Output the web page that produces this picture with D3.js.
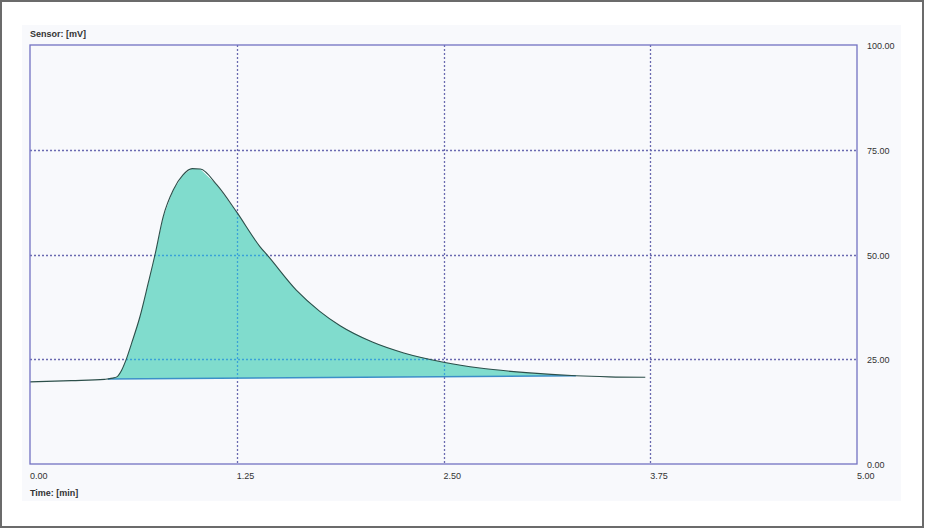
<!DOCTYPE html>
<html>
<head>
<meta charset="utf-8">
<script src="https://cdn.jsdelivr.net/npm/d3@7"></script>
<style>
  html, body { margin: 0; padding: 0; background: #ffffff; }
  svg { display: block; }
  text { font-family: "Liberation Sans", Arial, sans-serif; }
</style>
</head>
<body>
<svg id="chart" width="925" height="528"></svg>
<script>
// ---- data ----
const timeMin = [0.00, 0.25, 0.45, 0.47, 0.50, 0.525, 0.554, 0.58, 0.615, 0.665, 0.715, 0.756, 0.805, 0.866, 0.925, 0.98, 1.03, 1.13, 1.25, 1.39, 1.44, 1.61, 1.75, 1.875, 2.07, 2.26, 2.50, 2.72, 3.00, 3.30, 3.50, 3.72];
const sensorMv = [19.6, 19.9, 20.2, 20.3, 20.5, 20.8, 22.4, 24.8, 28.9, 35.2, 43.2, 50.0, 59.0, 65.4, 69.0, 70.5, 70.4, 66.6, 60.1, 51.9, 49.6, 41.5, 36.5, 33.0, 29.1, 26.5, 24.3, 22.9, 21.8, 21.05, 20.8, 20.7];
const baselineTime = [0.47, 3.30];
const baselineMv = [20.3, 21.05];
const xTicks = [0.00, 1.25, 2.50, 3.75, 5.00];
const yTicks = [0.00, 25.00, 50.00, 75.00, 100.00];
const yAxisTitle = "Sensor: [mV]";
const xAxisTitle = "Time: [min]";

// ---- layout ----
const svg = d3.select("#chart");
const W = 925, H = 528;
const plot = { left: 30, right: 857, top: 45, bottom: 464 };

const x = d3.scaleLinear().domain([0, 5]).range([plot.left, plot.right]);
const y = d3.scaleLinear().domain([0, 100]).range([plot.bottom, plot.top]);

// outer frame
svg.append("rect").attr("x", 1).attr("y", 1).attr("width", W - 3).attr("height", H - 2)
  .attr("fill", "#ffffff").attr("stroke", "#6b6b6b").attr("stroke-width", 2);
// inner panel
svg.append("rect").attr("x", 22).attr("y", 25).attr("width", 879).attr("height", 476)
  .attr("fill", "#f8f9fc");

const curve = timeMin.map((t, i) => [t, sensorMv[i]]);
const base = baselineTime.map((t, i) => [t, baselineMv[i]]);

// fill polygon between peak and baseline
const peakPts = curve.filter(d => d[0] >= baselineTime[0] && d[0] <= baselineTime[1]);
const polyPts = peakPts.concat(base.slice().reverse());
const lineGen = d3.line().x(d => x(d[0])).y(d => y(d[1]));
const polyPath = lineGen(polyPts) + "Z";

svg.append("defs").append("clipPath").attr("id", "peakClip")
  .append("path").attr("d", polyPath);

// grid
function drawGrid(g, color) {
  g.selectAll("line.v").data(xTicks.filter(t => t > 0 && t < 5)).join("line")
    .attr("class", "v")
    .attr("x1", d => Math.round(x(d)) + 0.5).attr("x2", d => Math.round(x(d)) + 0.5)
    .attr("y1", plot.top).attr("y2", plot.bottom)
    .attr("stroke", color).attr("stroke-width", 1.3).attr("stroke-dasharray", "2,2");
  g.selectAll("line.h").data(yTicks.filter(t => t > 0 && t < 100)).join("line")
    .attr("class", "h")
    .attr("y1", d => Math.round(y(d)) + 0.5).attr("y2", d => Math.round(y(d)) + 0.5)
    .attr("x1", plot.left).attr("x2", plot.right)
    .attr("stroke", color).attr("stroke-width", 1.3).attr("stroke-dasharray", "2,2");
}
drawGrid(svg.append("g"), "#6a6ab0");
const gIn = svg.append("g").attr("clip-path", "url(#peakClip)");
gIn.append("path").attr("d", polyPath).attr("fill", "#80dccd");
drawGrid(gIn, "#3aa2d8");

// baseline
svg.append("path").attr("d", lineGen(base)).attr("fill", "none")
  .attr("stroke", "#3b8fc8").attr("stroke-width", 1.4);

// signal curve
svg.append("path").attr("d", d3.line().curve(d3.curveMonotoneX).x(d => x(d[0])).y(d => y(d[1]))(curve))
  .attr("fill", "none").attr("stroke", "#2c4f4a").attr("stroke-width", 1.1);

// plot frame
svg.append("rect").attr("x", plot.left).attr("y", plot.top)
  .attr("width", plot.right - plot.left).attr("height", plot.bottom - plot.top)
  .attr("fill", "none").attr("stroke", "#7272c2").attr("stroke-width", 1.3);

// x tick labels (left-aligned at tick)
svg.append("g").selectAll("text").data(xTicks).join("text")
  .attr("x", d => x(d)).attr("y", 479)
  .attr("font-size", 9).attr("fill", "#333")
  .text(d => d.toFixed(2));

// y tick labels (right side)
svg.append("g").selectAll("text").data(yTicks).join("text")
  .attr("x", 867).attr("y", d => y(d) + 4)
  .attr("font-size", 9).attr("fill", "#333")
  .text(d => d.toFixed(2));

// axis titles
svg.append("text").attr("x", 30).attr("y", 37).attr("font-size", 9)
  .attr("font-weight", "bold").attr("fill", "#333").text(yAxisTitle);
svg.append("text").attr("x", 30).attr("y", 496).attr("font-size", 9)
  .attr("font-weight", "bold").attr("fill", "#333").text(xAxisTitle);
</script>
</body>
</html>
